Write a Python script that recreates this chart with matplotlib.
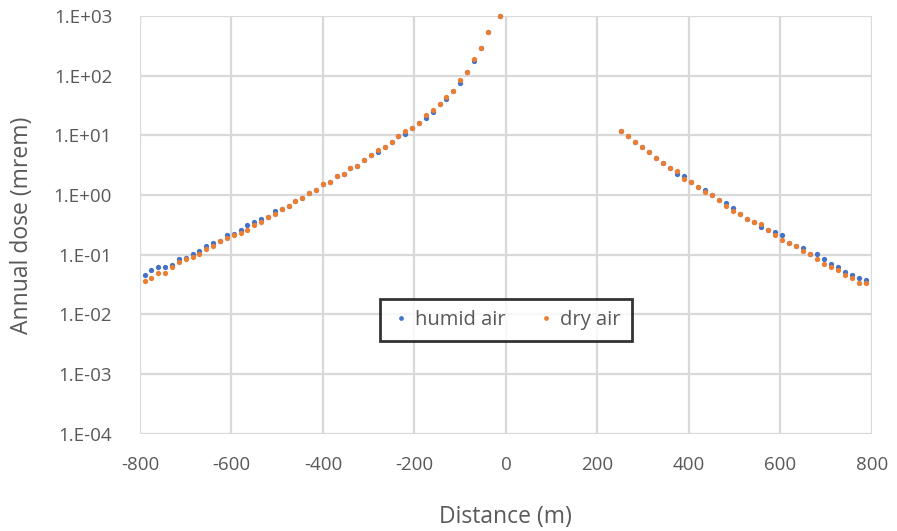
import numpy as np
import matplotlib
matplotlib.use("Agg")
import matplotlib.pyplot as plt
from matplotlib.ticker import FuncFormatter, FixedLocator

# distances (m), upwind side and downwind side
x_left = [-790, -775, -760, -745, -730, -715, -700, -685, -670, -655,
          -640, -625, -610, -595, -580, -565, -550, -535, -520, -505,
          -490, -475, -460, -445, -430, -415, -400, -385, -370, -355,
          -340, -325, -310, -295, -280, -265, -250, -235, -220, -205,
          -190, -175, -160, -145, -130, -115, -100, -85, -70, -55,
          -40, -13]
x_right = [251, 266, 282, 297, 312, 328, 343, 358, 374, 389,
           404, 420, 435, 450, 466, 481, 496, 512, 527, 542,
           558, 573, 588, 604, 619, 634, 650, 665, 680, 696,
           711, 726, 742, 757, 772, 787]

dry_left = [0.0369, 0.0408, 0.0502, 0.0502, 0.0617, 0.0757, 0.0839, 0.0931, 0.103, 0.127,
            0.140, 0.173, 0.191, 0.212, 0.235, 0.260, 0.320, 0.354, 0.436, 0.482,
            0.593, 0.656, 0.807, 0.893, 1.10, 1.22, 1.53, 1.68, 2.06, 2.29,
            2.81, 3.11, 3.83, 4.70, 5.77, 6.40, 7.85, 9.64, 11.9, 13.1,
            16.1, 22.0, 27.0, 33.1, 44.6, 56.1, 83.6, 115, 193, 291,
            540, 1000]
humid_left = [0.0453, 0.0556, 0.0617, 0.0617, 0.0682, 0.0839, 0.087, 0.103, 0.114, 0.140,
              0.156, 0.173, 0.212, 0.22, 0.260, 0.320, 0.354, 0.393, 0.436, 0.535,
              0.593, 0.656, 0.807, 0.893, 1.10, 1.22, 1.53, 1.68, 2.06, 2.29,
              2.81, 3.11, 3.83, 4.70, 5.20, 6.40, 7.85, 9.64, 10.7, 13.1,
              16.1, 19.8, 24.3, 33.1, 40.2, 56.1, 75.5, 115, 174, 291,
              540, 1000]

dry_right = [11.9, 9.64, 7.85, 6.40, 5.20, 4.24, 3.45, 2.81, 2.54, 1.86,
             1.68, 1.37, 1.11, 1.00, 0.817, 0.665, 0.542, 0.489, 0.398, 0.359,
             0.324, 0.264, 0.215, 0.175, 0.158, 0.142, 0.116, 0.104, 0.0851, 0.0692,
             0.0625, 0.0564, 0.0459, 0.0414, 0.0337, 0.0337]
humid_right = [11.9, 9.64, 7.85, 6.40, 5.20, 4.24, 3.45, 2.81, 2.29, 2.07,
               1.68, 1.37, 1.23, 1.00, 0.817, 0.738, 0.601, 0.489, 0.398, 0.359,
               0.292, 0.264, 0.238, 0.215, 0.158, 0.142, 0.128, 0.104, 0.104, 0.0851,
               0.0692, 0.0625, 0.0508, 0.0459, 0.0414, 0.0373]

x_ticks = [-800, -600, -400, -200, 0, 200, 400, 600, 800]
y_ticks = [1e-4, 1e-3, 1e-2, 1e-1, 1e0, 1e1, 1e2, 1e3]

plt.rcParams['font.family'] = ['Open Sans', 'DejaVu Sans']
plt.rcParams['axes.unicode_minus'] = False
grey = '#595959'
blue = '#4472C4'
orange = '#ED7D31'

fig = plt.figure(figsize=(8.97, 5.31), dpi=100)
ax = fig.add_axes([0.156, 0.183, 0.816, 0.787])

ax.plot(x_left + x_right, humid_left + humid_right, 'o', color=blue,
        markersize=3.8, markeredgewidth=0, label='humid air', clip_on=False, zorder=3)
ax.plot(x_left + x_right, dry_left + dry_right, 'o', color=orange,
        markersize=3.8, markeredgewidth=0, label='dry air', clip_on=False, zorder=4)

ax.set_yscale('log')
ax.set_xlim(-800, 800)
ax.set_ylim(1e-4, 1e3)
ax.xaxis.set_major_locator(FixedLocator(x_ticks))
ax.yaxis.set_major_locator(FixedLocator(y_ticks))
ax.yaxis.set_minor_locator(FixedLocator([]))
ax.yaxis.set_major_formatter(FuncFormatter(lambda v, p: "1.E%+03d" % int(round(np.log10(v)))))

ax.grid(True, color='#D9D9D9', linewidth=1.6)
ax.set_axisbelow(True)
for s in ax.spines.values():
    s.set_visible(False)
ax.tick_params(length=0, labelsize=13.5, colors=grey)
ax.tick_params(axis='y', pad=20)
ax.tick_params(axis='x', pad=16)

ax.set_xlabel('Distance (m)', fontsize=16.5, color=grey, labelpad=22)
ax.set_ylabel('Annual dose (mrem)', fontsize=16.5, color=grey, labelpad=14)

leg = ax.legend(loc='center', bbox_to_anchor=(0.5, 0.273), ncol=2, fontsize=14.5,
                frameon=True, fancybox=False, markerscale=0.9, handletextpad=0.2,
                columnspacing=1.5, borderpad=0.55, handlelength=1.0)
leg.get_frame().set_edgecolor('black')
leg.get_frame().set_linewidth(2)
for t in leg.get_texts():
    t.set_color(grey)

fig.savefig('out.png', dpi=100)
